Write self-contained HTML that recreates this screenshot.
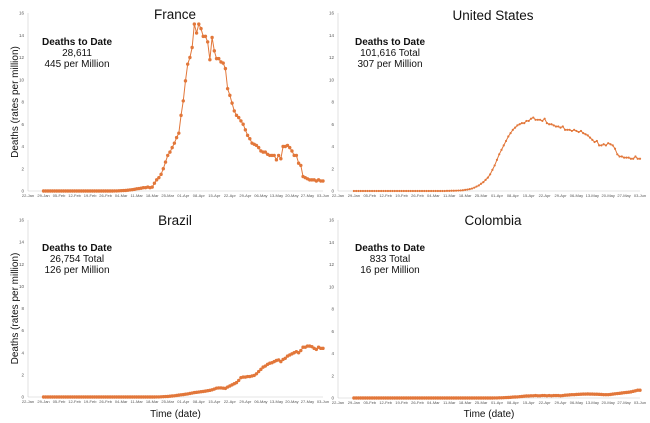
<!DOCTYPE html>
<html><head><meta charset="utf-8"><style>
body{margin:0;background:#fff;}
svg{display:block;font-family:"Liberation Sans",sans-serif;}
</style></head><body>
<svg id="c" width="650" height="423" viewBox="0 0 650 423" xmlns="http://www.w3.org/2000/svg"></svg>
<script>
const tickLabels = ["22-Jan","29-Jan","05-Feb","12-Feb","19-Feb","26-Feb","04-Mar","11-Mar","18-Mar","25-Mar","01-Apr","08-Apr","15-Apr","22-Apr","29-Apr","06-May","13-May","20-May","27-May","03-Jun"];
const yTicks = [0,2,4,6,8,10,12,14,16];
const startDay = 7; // data starts 29-Jan
const franceVals = [
0,0,0,0,0,0,0, 0,0,0,0,0,0,0, 0,0,0,0,0,0,0, 0,0,0,0,0,0,0,
0,0,0,0,0.01,0.01,0.02,
0.03,0.04,0.05,0.07,0.1,0.12,0.15,
0.2,0.22,0.25,0.3,0.3,0.35,0.3,
0.35,0.7,1.0,1.2,1.5,2.0,2.6,
3.2,3.5,3.9,4.3,4.8,5.2,6.8,
8.1,9.9,11.4,12.0,12.9,15.0,14.2,
15.0,14.6,13.9,13.9,13.4,11.8,13.8,
12.6,11.9,11.9,11.6,11.5,11.0,9.2,
8.6,7.9,7.2,6.8,6.6,6.3,6.0,
5.5,5.0,4.7,4.3,4.2,4.1,3.9,
3.6,3.5,3.5,3.3,3.2,3.2,3.2,
2.8,3.2,2.9,4.0,4.0,4.1,3.9,
3.6,3.2,3.2,2.5,2.3,1.3,1.2,
1.1,1.0,1.0,1.0,0.9,1.0,0.9,
0.9];
const usVals = [
0,0,0,0,0,0,0, 0,0,0,0,0,0,0, 0,0,0,0,0,0,0, 0,0,0,0,0,0,0,
0,0,0,0,0,0,0,
0,0,0,0,0,0,0.01,
0.01,0.02,0.02,0.03,0.04,0.05,0.07,
0.1,0.13,0.17,0.22,0.3,0.4,0.5,
0.65,0.8,1.0,1.2,1.5,1.9,2.3,
2.8,3.3,3.7,4.1,4.5,4.9,5.2,
5.5,5.7,5.9,6.0,6.1,6.1,6.3,
6.3,6.5,6.6,6.4,6.4,6.4,6.3,
6.5,6.1,6.0,6.0,5.9,5.8,5.8,
5.7,5.8,5.5,5.5,5.5,5.4,5.5,
5.4,5.3,5.4,5.2,5.1,5.0,4.8,
4.6,4.4,4.5,4.1,4.1,4.2,4.1,
4.3,4.2,4.1,3.8,3.3,3.1,3.1,
3.0,3.0,3.0,2.9,2.9,3.1,2.9,
2.9];
const brazilVals = [
0,0,0,0,0,0,0, 0,0,0,0,0,0,0, 0,0,0,0,0,0,0, 0,0,0,0,0,
0,0,0,0,0,0,0,
0,0,0,0,0,0,0,
0,0,0,0,0,0,0,
0,0,0,0,0.01,0.01,0.02,
0.03,0.04,0.05,0.07,0.09,0.11,0.14,
0.17,0.2,0.22,0.25,0.28,0.32,0.36,
0.4,0.42,0.45,0.48,0.5,0.53,0.57,
0.6,0.65,0.72,0.8,0.82,0.82,0.8,
0.78,0.9,1.0,1.1,1.2,1.3,1.5,
1.75,1.8,1.8,1.85,1.85,1.9,1.95,
2.1,2.3,2.5,2.7,2.8,2.95,3.05,
3.1,3.2,3.3,3.35,3.2,3.4,3.5,
3.7,3.8,3.9,4.0,4.1,4.0,4.2,
4.5,4.5,4.6,4.6,4.55,4.4,4.3,
4.5,4.4,4.4];
const colombiaVals = [
0,0,0,0,0,0,0, 0,0,0,0,0,0,0, 0,0,0,0,0,0,0, 0,0,0,0,0,0,0,
0,0,0,0,0,0,0,
0,0,0,0,0,0,0,
0,0,0,0,0,0,0,
0,0,0,0,0,0,0,
0,0,0,0,0,0,0.01,
0.01,0.02,0.02,0.03,0.04,0.05,0.06,
0.08,0.09,0.1,0.12,0.14,0.16,0.18,
0.18,0.2,0.2,0.22,0.2,0.2,0.22,
0.22,0.2,0.22,0.2,0.22,0.22,0.22,
0.2,0.22,0.25,0.26,0.28,0.3,0.3,
0.32,0.33,0.34,0.35,0.35,0.36,0.35,
0.35,0.34,0.34,0.33,0.32,0.3,0.3,
0.3,0.32,0.35,0.38,0.4,0.42,0.45,
0.48,0.5,0.52,0.55,0.6,0.65,0.7,
0.7];
const panels = [
 {name:"France", vals:franceVals, x0:28, x1:323, y0:191, y1:13, tx:175, ty:19, ax:77, ay:45, lines:["28,611","445 per Million"], yTitle:true, xTitle:false, r:1.7},
 {name:"United States", vals:usVals, x0:338, x1:640, y0:191, y1:13, tx:493, ty:20, ax:390, ay:45, lines:["101,616 Total","307 per Million"], yTitle:false, xTitle:false, r:1.1},
 {name:"Brazil", vals:brazilVals, x0:28, x1:323, y0:397, y1:220, tx:175, ty:225, ax:77, ay:251, lines:["26,754 Total","126 per Million"], yTitle:true, xTitle:true, r:1.7},
 {name:"Colombia", vals:colombiaVals, x0:338, x1:640, y0:398, y1:220, tx:493, ty:225, ax:390, ay:251, lines:["833 Total","16 per Million"], yTitle:false, xTitle:true, r:1.7}
];
const svg = document.getElementById('c');
const NS = "http://www.w3.org/2000/svg";
function mk(tag, attrs, parent){const e=document.createElementNS(NS,tag);for(const k in attrs)e.setAttribute(k,attrs[k]);(parent||svg).appendChild(e);return e;}
const COLOR = "#E2773A";
panels.forEach(p=>{
  const slug = p.name.toLowerCase().replace(/ /g,'-');
  const g = mk('g',{});
  
  
  const xs = d => p.x0 + (p.x1-p.x0)*d/133;
  const ys = v => p.y0 + (p.y1-p.y0)*v/16;
  const ax = mk('line',{x1:p.x0,y1:p.y1,x2:p.x0,y2:p.y0,stroke:'#ccc','stroke-width':0.6},g);
  
  
  const bx = mk('line',{x1:p.x0,y1:p.y0,x2:p.x1,y2:p.y0,stroke:'#ccc','stroke-width':0.6},g);
  
  
  yTicks.forEach(v=>{
    const t = mk('text',{x:p.x0-4,y:ys(v)+1.5,'font-size':4.5,'text-anchor':'end',fill:'#555'},g);
    t.textContent = v;
    
    
  });
  tickLabels.forEach((l,i)=>{
    const t = mk('text',{x:xs(i*7),y:p.y0+6,'font-size':4,'text-anchor':'middle',fill:'#555'},g);
    t.textContent = l;
    
    
  });
  const pts = p.vals.map((v,i)=>xs(startDay+i).toFixed(2)+','+ys(v).toFixed(2)).join(' ');
  const pl = mk('polyline',{points:pts,fill:'none',stroke:COLOR,'stroke-width':1},g);
  
  
  p.vals.forEach((v,i)=>{
    const c = mk('circle',{cx:xs(startDay+i),cy:ys(v),r:p.r,fill:COLOR},g);
    
    
  });
  const ti = mk('text',{x:p.tx,y:p.ty,'font-size':13.5,'text-anchor':'middle',fill:'#111'},g);
  ti.textContent = p.name;
  
  
  const a1 = mk('text',{x:p.ax,y:p.ay,'font-size':10,'font-weight':'bold','text-anchor':'middle',fill:'#111'},g);
  a1.textContent = "Deaths to Date";
  
  
  p.lines.forEach((l,i)=>{
    const a = mk('text',{x:p.ax,y:p.ay+11*(i+1),'font-size':10,'text-anchor':'middle',fill:'#111'},g);
    a.textContent = l;
    
    
  });
  if(p.yTitle){
    const cy=(p.y0+p.y1)/2;
    const yt = mk('text',{x:0,y:0,'font-size':10,'text-anchor':'middle',fill:'#111',transform:`translate(18,${cy}) rotate(-90)`},g);
    yt.textContent = "Deaths (rates per million)";
    
    
  }
  if(p.xTitle){
    const xt = mk('text',{x:(p.x0+p.x1)/2,y:417,'font-size':10,'text-anchor':'middle',fill:'#111'},g);
    xt.textContent = "Time (date)";
    
    
  }
});
</script>
</body></html>
